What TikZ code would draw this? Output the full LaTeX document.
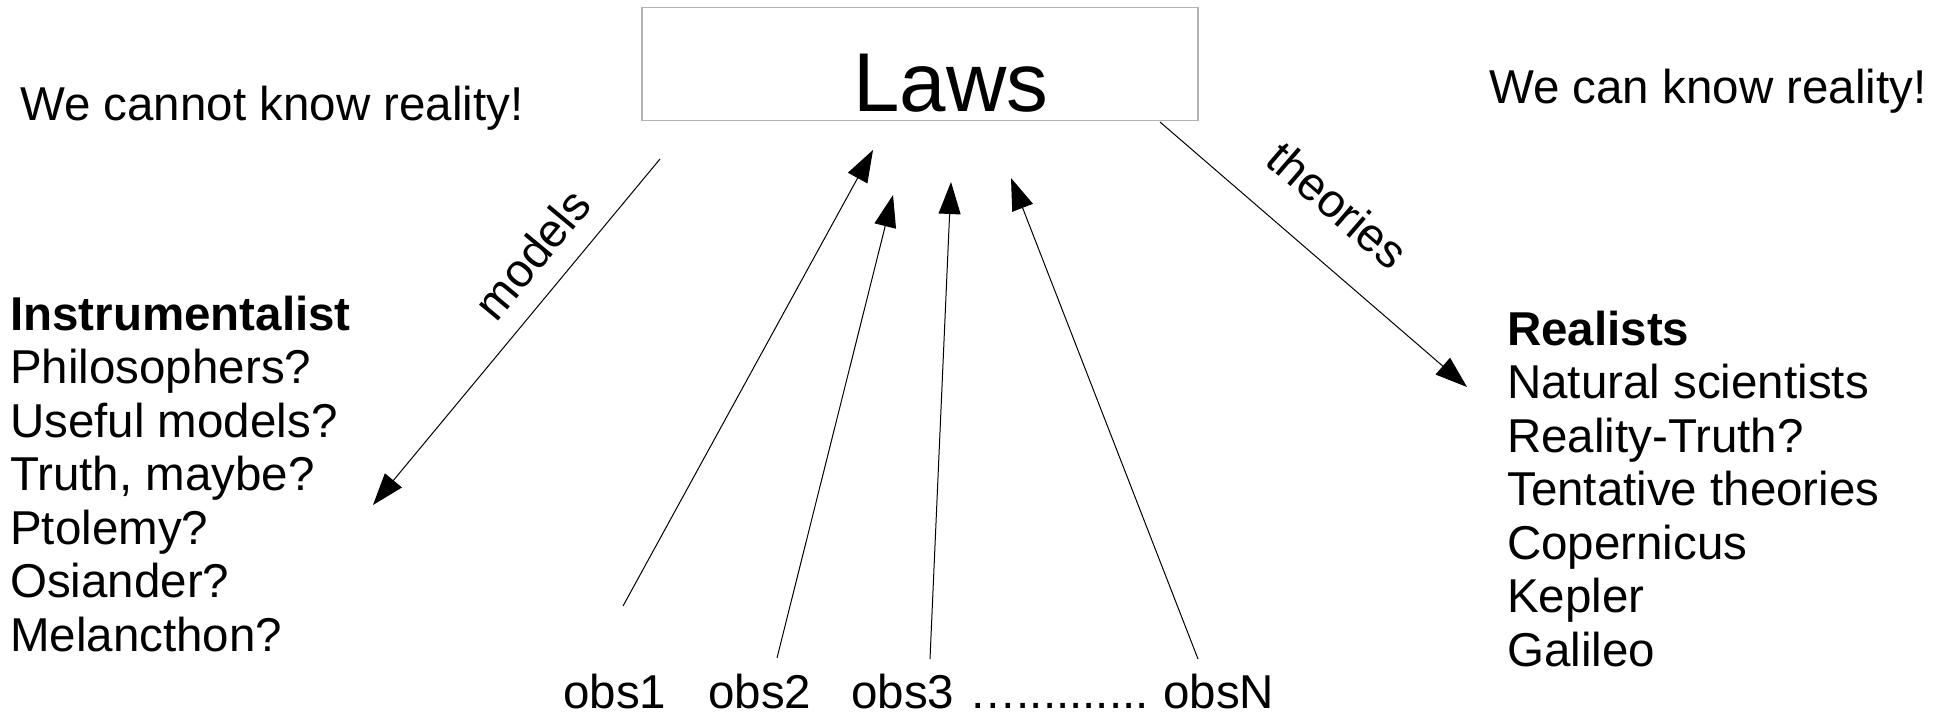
\documentclass[tikz,border=0pt]{standalone}
\usepackage{fontspec}
\setmainfont{Liberation Sans}
\usetikzlibrary{arrows.meta}
\begin{document}
\begin{tikzpicture}[x=1pt,y=-1pt,
  txt/.style={inner sep=0pt, font=\fontsize{47.5}{53.5}\selectfont, anchor=base west},
  conn/.style={line width=1pt, -{Triangle[length=32pt,width=22pt]}},
  lawsbox/.style={draw=black!30, line width=1.5pt, minimum width=556pt, minimum height=113pt, inner sep=0pt},
  lbl/.style={inner sep=0pt, font=\fontsize{47}{52}\selectfont}]
\useasboundingbox (0,0) rectangle (1950,718);

\node[lawsbox] (laws) at (920,64) {};
\node[inner sep=0pt, font=\fontsize{83.5}{90}\selectfont, anchor=base] (lawstext) at (951,111) {Laws};

\node[txt] (cannot) at (20,120) {We cannot know reality!};
\node[txt] (can) at (1489,103) {We can know reality!};

\foreach \t [count=\i] in {{\bfseries Instrumentalist}, {Philosophers?}, {Useful models?}, {Truth, maybe?}, {Ptolemy?}, {Osiander?}, {Melancthon?}}
  \node[txt] (left\i) at (10, 330+53.5*\i-53.5) {\t};

\foreach \t [count=\i] in {{\bfseries Realists}, {Natural scientists}, {Reality-Truth?}, {Tentative theories}, {Copernicus}, {Kepler}, {Galileo}}
  \node[txt] (right\i) at (1507, 345+53.5*\i-53.5) {\t};

\node[txt] (obs1) at (563,708) {obs1};
\node[txt] (obs2) at (708,708) {obs2};
\node[txt] (obs3) at (851,708) {obs3};
\node[txt] (dots) at (969,708) {…..........};
\node[txt] (obsN) at (1163,708) {obsN};

\coordinate (ms) at (660,159);  \coordinate (me) at (373,505);
\coordinate (ts) at (1160,122); \coordinate (te) at (1467,387);
\coordinate (o1s) at (623,606); \coordinate (o1e) at (873,150);
\coordinate (o2s) at (777,658); \coordinate (o2e) at (893,195);
\coordinate (o3s) at (930,659); \coordinate (o3e) at (951,182);
\coordinate (oNs) at (1198,659); \coordinate (oNe) at (1011,178);

\draw[conn] (ms) -- (me);
\draw[conn] (ts) -- (te);
\draw[conn] (o1s) -- (o1e);
\draw[conn] (o2s) -- (o2e);
\draw[conn] (o3s) -- (o3e);
\draw[conn] (oNs) -- (oNe);

\node[lbl, rotate=50.3] (models) at (532,254) {models};
\node[lbl, rotate=-40.8] (theories) at (1338,205) {theories};
\end{tikzpicture}
\end{document}
